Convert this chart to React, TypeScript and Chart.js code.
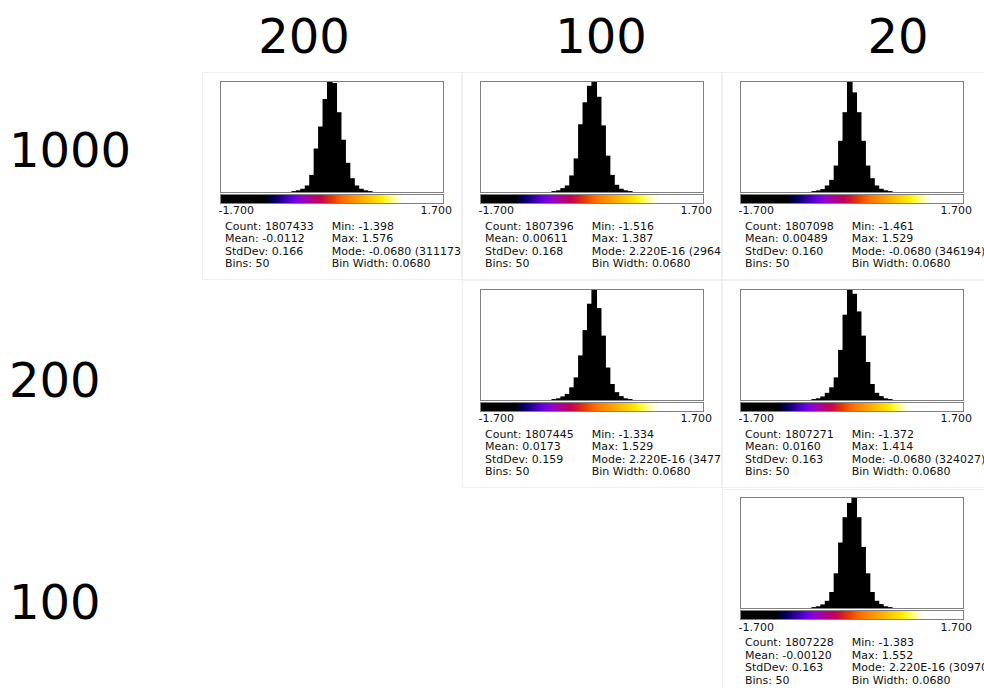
import React, { useEffect, useRef } from "react";
import { Chart, registerables } from "chart.js";
Chart.register(...registerables);

// ---- data ----
const COLUMN_LABELS = ["200", "100", "20"];
const ROW_LABELS = ["1000", "200", "100"];
const BIN_COUNT = 50;
const X_MIN = -1.7;
const X_MAX = 1.7;
const FIRST_BIN = 16; // index of first listed bin in each counts array

const counts_1000_200 = [900, 3100, 7500, 16800, 46700, 121400, 183600, 261400, 311173, 306500, 224000, 146300, 80900, 37300, 16800, 7500, 3100, 900];
const counts_1000_100 = [900, 3000, 8900, 16000, 43000, 88900, 180900, 240200, 284600, 296490, 255000, 177900, 96400, 44500, 17800, 7100, 3000, 900];
const counts_1000_20 = [1000, 3100, 7300, 18700, 36300, 81400, 159200, 249300, 346194, 311600, 249300, 159200, 81400, 41500, 18700, 8300, 3500, 1000];
const counts_200_100 = [1000, 3500, 9400, 17400, 38200, 69500, 139100, 219100, 302500, 347720, 288600, 201700, 100800, 48700, 22900, 10400, 3500, 1000];
const counts_200_20 = [1000, 3200, 8700, 19400, 35600, 64800, 145800, 249500, 324027, 311100, 259200, 187900, 110200, 45400, 19400, 9700, 3200, 1000];
const counts_100_20 = [900, 3100, 8400, 18600, 43400, 96000, 182700, 254000, 294200, 309700, 254000, 170300, 96000, 43400, 18600, 9300, 3100, 900];

const stats_1000_200 = { count: "1807433", mean: "-0.0112", std: "0.166", min: "-1.398", max: "1.576", mode: "-0.0680 (311173)" };
const stats_1000_100 = { count: "1807396", mean: "0.00611", std: "0.168", min: "-1.516", max: "1.387", mode: "2.220E-16 (296490)" };
const stats_1000_20 = { count: "1807098", mean: "0.00489", std: "0.160", min: "-1.461", max: "1.529", mode: "-0.0680 (346194)" };
const stats_200_100 = { count: "1807445", mean: "0.0173", std: "0.159", min: "-1.334", max: "1.529", mode: "2.220E-16 (347720)" };
const stats_200_20 = { count: "1807271", mean: "0.0160", std: "0.163", min: "-1.372", max: "1.414", mode: "-0.0680 (324027)" };
const stats_100_20 = { count: "1807228", mean: "-0.00120", std: "0.163", min: "-1.383", max: "1.552", mode: "2.220E-16 (309700)" };

const BINS_LABEL = "50";
const BIN_WIDTH_LABEL = "0.0680";
const AXIS_MIN_LABEL = "-1.700";
const AXIS_MAX_LABEL = "1.700";

// ---- layout / style ----
const PANELS = [
  { row: 0, col: 0, counts: counts_1000_200, stats: stats_1000_200, lut: [0.2, 0.82] },
  { row: 0, col: 1, counts: counts_1000_100, stats: stats_1000_100, lut: [0.15, 0.8] },
  { row: 0, col: 2, counts: counts_1000_20, stats: stats_1000_20, lut: [0.21, 0.86] },
  { row: 1, col: 1, counts: counts_200_100, stats: stats_200_100, lut: [0.15, 0.8] },
  { row: 1, col: 2, counts: counts_200_20, stats: stats_200_20, lut: [0.17, 0.76] },
  { row: 2, col: 2, counts: counts_100_20, stats: stats_100_20, lut: [0.16, 0.83] },
];
const COL_X = [202, 462, 722];
const ROW_Y = [72, 280.3, 488.6];
const COL_HEADER_X = [304, 601, 898];
const ROW_HEADER_Y = [122, 352, 574];

const FIRE_R = [0,0,1,25,49,73,98,122,146,162,173,184,195,207,217,229,240,252,255,255,255,255,255,255,255,255,255,255,255,255,255,255];
const FIRE_G = [0,0,0,0,0,0,0,0,0,0,0,0,0,14,35,57,79,101,117,133,147,161,175,190,205,219,234,248,255,255,255,255];
const FIRE_B = [0,61,96,130,165,192,220,227,210,181,151,122,93,64,35,5,0,0,0,0,0,0,0,0,0,0,0,35,98,160,223,255];

function fireGradient(s: number, e: number) {
  const stops: string[] = ["rgb(0,0,0) 0%", `rgb(0,0,0) ${(s * 100).toFixed(2)}%`];
  for (let k = 0; k < FIRE_R.length; k++) {
    const f = s + (e - s) * (k / (FIRE_R.length - 1));
    stops.push(`rgb(${FIRE_R[k]},${FIRE_G[k]},${FIRE_B[k]}) ${(f * 100).toFixed(2)}%`);
  }
  stops.push("rgb(255,255,255) 100%");
  return `linear-gradient(to right, ${stops.join(", ")})`;
}

const FONT = "'DejaVu Sans', sans-serif";

function Histogram({ counts }: { counts: number[] }) {
  const ref = useRef<HTMLCanvasElement>(null);
  useEffect(() => {
    const w = (X_MAX - X_MIN) / BIN_COUNT;
    const labels: string[] = [];
    const data: (number | null)[] = [];
    for (let i = 0; i < BIN_COUNT; i++) {
      labels.push((X_MIN + w * (i + 0.5)).toFixed(3));
      const j = i - FIRST_BIN;
      data.push(j >= 0 && j < counts.length ? counts[j] : null);
    }
    const max = Math.max(...counts);
    const chart = new Chart(ref.current!, {
      type: "bar",
      data: {
        labels,
        datasets: [
          {
            data,
            backgroundColor: "#000000",
            borderWidth: 0,
            inflateAmount: 0.6,
            categoryPercentage: 1,
            barPercentage: 1,
          } as any,
        ],
      },
      options: {
        responsive: false,
        animation: false,
        devicePixelRatio: 1,
        layout: { padding: 0 },
        plugins: { legend: { display: false }, tooltip: { enabled: false } },
        scales: {
          x: { display: false },
          y: { display: false, min: 0, max },
        },
      },
    });
    return () => chart.destroy();
  }, [counts]);
  return <canvas ref={ref} width={222} height={110} style={{ display: "block", width: 222, height: 110 }} />;
}

function Panel({ p }: { p: (typeof PANELS)[number] }) {
  const text: React.CSSProperties = { position: "absolute", fontFamily: FONT, fontSize: 11, lineHeight: "12.5px", color: "#111", whiteSpace: "nowrap" };
  const left = COL_X[p.col];
  const top = ROW_Y[p.row];
  const width = p.col === 2 ? 984 - left : 260;
  return (
    <div style={{ position: "absolute", left, top, width, height: 208, overflow: "hidden", boxSizing: "border-box", border: "1px solid #efefef", borderRight: p.col === 2 ? "none" : "1px solid #efefef", background: "#fff" }}>
      <div style={{ position: "absolute", left: 16.5, top: 7.7, width: 224, height: 112, boxSizing: "border-box", border: "1px solid #808080" }}>
        <Histogram counts={p.counts} />
      </div>
      <div style={{ position: "absolute", left: 16.5, top: 120.5, width: 224, height: 10, boxSizing: "border-box", border: "1px solid #808080", background: fireGradient(p.lut[0], p.lut[1]) }} />
      <div style={{ ...text, left: 15.5, top: 132 }}>{AXIS_MIN_LABEL}</div>
      <div style={{ ...text, left: 249 - 40, width: 40, textAlign: "right", top: 132 }}>{AXIS_MAX_LABEL}</div>
      <div style={{ ...text, left: 22, top: 147.5 }}>
        <div>Count: {p.stats.count}</div>
        <div>Mean: {p.stats.mean}</div>
        <div>StdDev: {p.stats.std}</div>
        <div>Bins: {BINS_LABEL}</div>
      </div>
      <div style={{ ...text, left: 128.7, top: 147.5 }}>
        <div>Min: {p.stats.min}</div>
        <div>Max: {p.stats.max}</div>
        <div>Mode: {p.stats.mode}</div>
        <div>Bin Width: {BIN_WIDTH_LABEL}</div>
      </div>
    </div>
  );
}

export default function App() {
  const big: React.CSSProperties = { position: "absolute", fontFamily: FONT, fontSize: 48, color: "#000", whiteSpace: "nowrap" };
  return (
    <div style={{ position: "fixed", left: 0, top: 0, width: 984, height: 688, overflow: "hidden", background: "#fff" }}>
      {COLUMN_LABELS.map((t, i) => (
        <div key={"c" + i} style={{ ...big, left: COL_HEADER_X[i] - 100, width: 200, textAlign: "center", top: 8 }}>{t}</div>
      ))}
      {ROW_LABELS.map((t, i) => (
        <div key={"r" + i} style={{ ...big, left: 9, top: ROW_HEADER_Y[i] }}>{t}</div>
      ))}
      {PANELS.map((p, i) => (
        <Panel key={i} p={p} />
      ))}
    </div>
  );
}
